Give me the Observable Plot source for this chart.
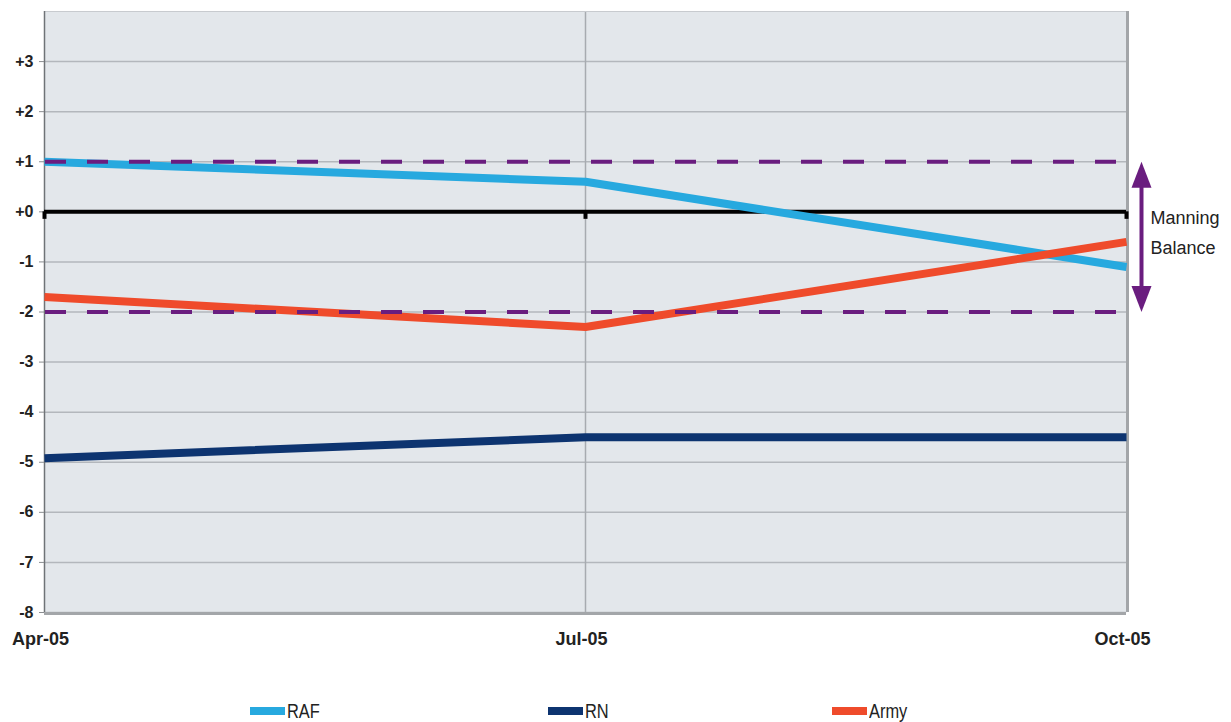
<!DOCTYPE html>
<html><head><meta charset="utf-8">
<script src="https://cdn.jsdelivr.net/npm/d3@7"></script>
<script src="https://cdn.jsdelivr.net/npm/@observablehq/plot@0.6"></script>
<style>
body{margin:0;background:#fff;font-family:"Liberation Sans",Arial,sans-serif;}
#wrap{position:relative;width:1231px;height:722px;overflow:hidden;}
#chart svg{display:block;overflow:visible;}
.leg{position:absolute;top:699px;height:24px;display:flex;align-items:center;}
.sw{width:35px;height:8px;margin-right:2px;}
.lt{font-size:20px;color:#222;display:inline-block;transform:scaleX(0.82);transform-origin:left center;line-height:24px;}
</style></head><body>
<div id="wrap"><div id="chart"></div></div>
<script>
// ---- data ----
const months = ["Apr-05", "Jul-05", "Oct-05"];
const seriesNames = ["RAF", "RN", "Army"];
const rafValues = [1.0, 0.6, -1.1];
const rnValues = [-4.92, -4.5, -4.5];
const armyValues = [-1.7, -2.3, -0.6];
const seriesColors = ["#27a9df", "#0d3470", "#ef4b2b"];
const yTicks = [-8, -7, -6, -5, -4, -3, -2, -1, 0, 1, 2, 3];
const balanceLimits = [1, -2];
const balanceLabel = "Manning\nBalance";

const valuesBySeries = [rafValues, rnValues, armyValues];
const rows = seriesNames.flatMap((s, i) => months.map((m, j) => ({series: s, month: m, value: valuesBySeries[i][j]})));
const fmt = d => (d >= 0 ? "+" : "-") + Math.abs(d);
const purple = "#6a1d7f";
const headUp = {draw(ctx) { ctx.moveTo(0, 0); ctx.lineTo(10, 26); ctx.lineTo(-10, 26); ctx.closePath(); }};
const headDown = {draw(ctx) { ctx.moveTo(0, 0); ctx.lineTo(10, -26); ctx.lineTo(-10, -26); ctx.closePath(); }};

const chart = Plot.plot({
  width: 1231, height: 690,
  marginLeft: 44, marginRight: 105, marginTop: 11, marginBottom: 78,
  x: {type: "point", domain: months, padding: 0, label: null},
  y: {domain: [-8, 4], label: null},
  color: {domain: seriesNames, range: seriesColors},
  style: {fontFamily: "'Liberation Sans', Arial, sans-serif", background: "transparent", color: "#222"},
  marks: [
    Plot.frame({fill: "#e3e7eb", stroke: null}),
    Plot.ruleY(yTicks, {stroke: "#b3b7bc", strokeWidth: 1.5}),
    Plot.ruleX(["Jul-05"], {stroke: "#a7abb0", strokeWidth: 1.5}),
    Plot.ruleY([4], {stroke: "#c8cbcf", strokeWidth: 1}),
    Plot.ruleX(["Apr-05"], {stroke: "#6f7377", strokeWidth: 1.5}),
    Plot.ruleX(["Oct-05"], {stroke: "#a3a6a9", strokeWidth: 3, dx: 1}),
    Plot.ruleY([-8], {stroke: "#a3a6a9", strokeWidth: 3, dy: 1}),
    Plot.axisY({ticks: yTicks, tickSize: 5, tickPadding: 6, tickFormat: fmt, fontSize: 16, fontWeight: "bold", stroke: "#8a8d90"}),
    Plot.axisX({tickSize: 0, tickPadding: 20, fontSize: 18, fontWeight: "bold", dx: -4}),
    Plot.ruleY([0], {stroke: "#000", strokeWidth: 4}),
    Plot.ruleX(months, {y1: 0, y2: -0.15, stroke: "#000", strokeWidth: 4}),
    Plot.line(rows, {x: "month", y: "value", z: "series", stroke: "series", strokeWidth: 8, strokeLinecap: "butt", strokeLinejoin: "round"}),
    Plot.ruleY(balanceLimits, {stroke: purple, strokeWidth: 4, strokeDasharray: "21,21", dx: 1}),
    Plot.ruleX(["Oct-05"], {y1: balanceLimits[0], y2: balanceLimits[1], dx: 15, stroke: purple, strokeWidth: 4, insetTop: 20, insetBottom: 20}),
    Plot.dot([balanceLimits[0]], {x: () => "Oct-05", y: d => d, dx: 15, symbol: headUp, fill: purple, stroke: null}),
    Plot.dot([balanceLimits[1]], {x: () => "Oct-05", y: d => d, dx: 15, symbol: headDown, fill: purple, stroke: null}),
    Plot.text([balanceLabel], {x: () => "Oct-05", y: () => (balanceLimits[0] + balanceLimits[1]) / 2, dx: 24, dy: -7, text: d => d, textAnchor: "start", fontSize: 18, lineHeight: 1.667, fill: "#222"})
  ]
});
document.getElementById("chart").append(chart);

const legendLeft = [250, 548, 832];
const wrap = document.getElementById("wrap");
seriesNames.forEach((s, i) => {
  const d = document.createElement("div");
  d.className = "leg";
  d.style.left = legendLeft[i] + "px";
  d.innerHTML = `<span class="sw" style="background:${seriesColors[i]}"></span><span class="lt">${s}</span>`;
  wrap.append(d);
});
</script>
</body></html>
